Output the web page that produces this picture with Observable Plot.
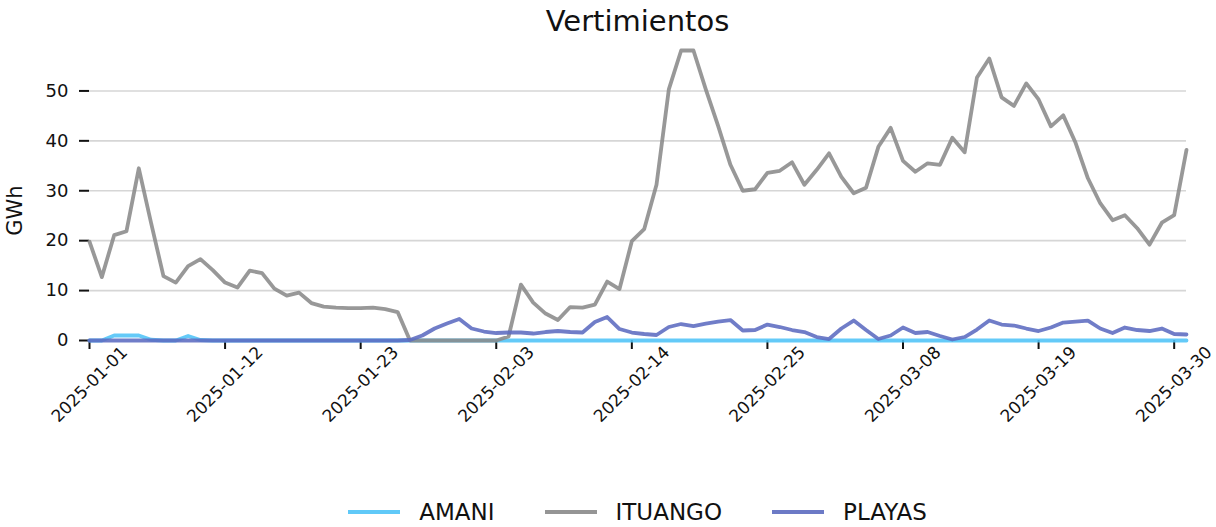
<!DOCTYPE html>
<html><head><meta charset="utf-8">
<script src="https://cdn.jsdelivr.net/npm/d3@7"></script>
<script src="https://cdn.jsdelivr.net/npm/@observablehq/plot@0.6"></script>
<style>
body{margin:0;background:#fff;font-family:"DejaVu Sans",sans-serif;}
#wrap{position:relative;width:1216px;height:527px;overflow:hidden;}
#title{position:absolute;left:89px;width:1097px;top:0;height:42px;line-height:42px;text-align:center;font-size:29px;color:#111;}
#chart{position:absolute;left:0;top:40px;}
#legend{position:absolute;left:89px;width:1097px;top:497px;height:30px;display:flex;justify-content:center;align-items:center;gap:50px;font-size:23px;color:#111;}
.item{display:flex;align-items:center;}
.sw{width:52px;height:4px;margin-right:19px;}
</style>
</head><body>
<div id="wrap"><div id="title">Vertimientos</div><div id="chart"></div><div id="legend"></div></div>
<script>
const startDate = "2025-01-01";
const seriesNames = ["AMANI", "ITUANGO", "PLAYAS"];
const seriesColors = ["#4fc3f7", "#8a8a8a", "#5c6bc0"];
const amani = [0,0,1.0,1.0,1.0,0.15,0,0,0.9,0.1,0,0,0,0,0,0,0,0,0,0,0,0,0,0,0,0,0,0,0,0,0,0,0,0,0,0,0,0,0,0,0,0,0,0,0,0,0,0,0,0,0,0,0,0,0,0,0,0,0,0,0,0,0,0,0,0,0,0,0,0,0,0,0,0,0,0,0,0,0,0,0,0,0,0,0,0,0,0,0,0];
const ituango = [19.8,12.7,21.1,21.9,34.5,23.5,12.9,11.6,14.9,16.3,14.1,11.6,10.6,14.0,13.5,10.4,9.0,9.6,7.5,6.8,6.6,6.5,6.5,6.6,6.3,5.7,0,0,0,0,0,0,0,0,0.8,11.2,7.6,5.4,4.1,6.7,6.6,7.2,11.8,10.3,19.9,22.3,31.2,50.3,58.1,58.1,50.3,43.0,35.2,30.0,30.3,33.6,34.0,35.7,31.2,34.2,37.5,32.8,29.5,30.6,38.8,42.6,36.0,33.8,35.5,35.2,40.6,37.7,52.7,56.5,48.7,47.0,51.5,48.3,42.9,45.1,39.6,32.5,27.5,24.1,25.1,22.5,19.2,23.6,25.1,38.2];
const playas = [0,0,0,0,0,0,0,0,0,0,0,0,0,0,0,0,0,0,0,0,0,0,0,0,0,0,0.1,1.0,2.4,3.4,4.3,2.4,1.8,1.5,1.6,1.6,1.4,1.7,1.9,1.7,1.6,3.7,4.7,2.3,1.6,1.3,1.1,2.7,3.3,2.9,3.4,3.8,4.1,2.0,2.1,3.2,2.7,2.1,1.7,0.7,0.3,2.4,4.0,2.1,0.3,1.0,2.6,1.5,1.7,0.9,0.2,0.7,2.2,4.0,3.2,3.0,2.4,1.9,2.6,3.6,3.8,4.0,2.4,1.5,2.6,2.1,1.9,2.4,1.3,1.2];
const xTickLabels = ["2025-01-01","2025-01-12","2025-01-23","2025-02-03","2025-02-14","2025-02-25","2025-03-08","2025-03-19","2025-03-30"];
const yTicks = [0,10,20,30,40,50];
const yLabel = "GWh";

const t0 = new Date(startDate + "T00:00:00Z");
const dayOf = i => new Date(t0.getTime() + i * 86400000);
const seriesValues = [amani, ituango, playas];
const rows = [];
seriesNames.forEach((name, k) => seriesValues[k].forEach((v, i) => rows.push({name, date: dayOf(i), value: v})));
const tickDates = xTickLabels.map(s => new Date(s + "T00:00:00Z"));
const ymax = d3.max(ituango);

const chart = Plot.plot({
  width: 1216, height: 440,
  marginLeft: 89, marginRight: 30, marginTop: 10, marginBottom: 140,
  style: {fontFamily: "DejaVu Sans, sans-serif", color: "#111", background: "transparent"},
  x: {type: "utc", domain: [dayOf(0), dayOf(amani.length - 1)]},
  y: {domain: [0, ymax]},
  color: {domain: seriesNames, range: seriesColors},
  marks: [
    Plot.gridY(yTicks.filter(d => d > 0), {stroke: "#d6d6d6", strokeOpacity: 1, strokeWidth: 1.6}),
    Plot.axisY({ticks: yTicks, tickSize: 10, tickPadding: 11, fontSize: 18, label: null, strokeWidth: 2, stroke: "#111"}),
    Plot.axisX({ticks: tickDates, tickSize: 9, tickFormat: () => "", label: null, strokeWidth: 2, stroke: "#111"}),
    Plot.text(tickDates, {x: d => d, text: (d, i) => xTickLabels[i], frameAnchor: "bottom", dy: 44, rotate: -45, fontSize: 17, textAnchor: "middle", lineAnchor: "middle", fill: "#111"}),
    Plot.text([yLabel], {text: d => d, frameAnchor: "left", dx: -74, dy: 15, rotate: -90, fontSize: 21, textAnchor: "middle", lineAnchor: "middle", fill: "#111"}),
    Plot.line(rows, {x: "date", y: "value", z: "name", stroke: "name", strokeWidth: 3.8, strokeOpacity: 0.88, strokeLinejoin: "round"})
  ]
});
document.getElementById("chart").appendChild(chart);

const legend = document.getElementById("legend");
seriesNames.forEach((n, k) => {
  const it = document.createElement("div"); it.className = "item";
  const sw = document.createElement("div"); sw.className = "sw"; sw.style.background = seriesColors[k]; sw.style.opacity = 0.9;
  const lb = document.createElement("span"); lb.textContent = n;
  it.appendChild(sw); it.appendChild(lb); legend.appendChild(it);
});
</script>
</body></html>
